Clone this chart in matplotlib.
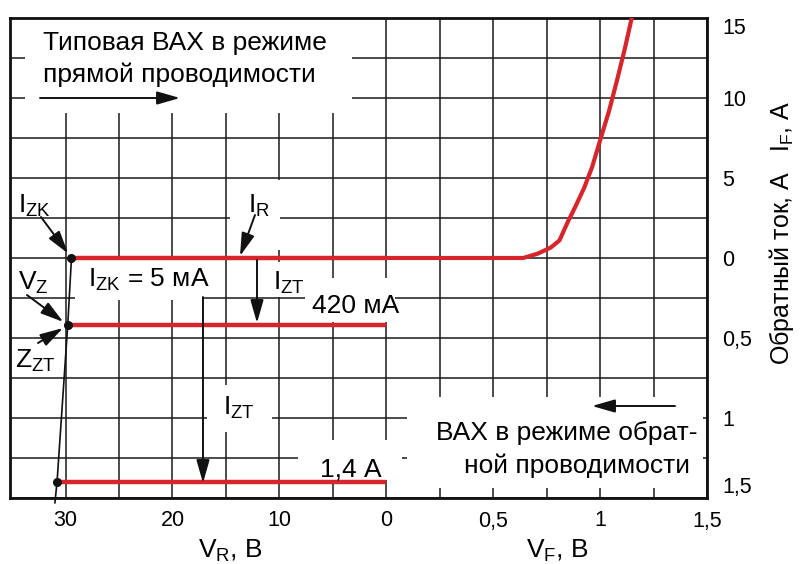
import numpy as np
import matplotlib
matplotlib.use("Agg")
import matplotlib.pyplot as plt
from matplotlib.patches import Rectangle

plt.rcParams['font.family'] = ['Liberation Sans', 'DejaVu Sans']
plt.rcParams['mathtext.fontset'] = 'custom'
plt.rcParams['mathtext.rm'] = 'Liberation Sans'
plt.rcParams['mathtext.it'] = 'Liberation Sans:italic'
plt.rcParams['mathtext.bf'] = 'Liberation Sans:bold'

# ---------------- data ----------------
# forward branch (V_F, В ; I_F, А)
vf = [0.0, 0.64, 0.71, 0.77, 0.81, 0.847, 0.884, 0.926, 0.963, 1.00, 1.042, 1.079, 1.116, 1.148]
i_f = [0.0, 0.0, 0.28, 0.66, 1.1, 2.2, 3.2, 4.4, 5.7, 7.35, 9.2, 11.1, 13.1, 15.0]

# zener breakdown branch (V_R, В ; I_R, А)
vr_z = [29.45, 29.8, 30.8, 31.0]
ir_z = [0.0, 0.42, 1.40, 1.53]

# test points I_ZK = 5 мА (~0 on this scale), I_ZT = 420 мА, I_ZT = 1,4 А
vr_pts = [29.45, 29.8, 30.8]
ir_pts = [0.0, 0.42, 1.40]

xtick_vals = [-30, -20, -10, 0, 0.5, 1.0, 1.5]
xtick_labels = ['30', '20', '10', '0', '0,5', '1', '1,5']
ytick_vals = [15, 10, 5, 0, -0.5, -1.0, -1.5]
ytick_labels = ['15', '10', '5', '0', '0,5', '1', '1,5']
xgrid_minor = [-25, -15, -5, 0.25, 0.75, 1.25]
ygrid_minor = [12.5, 7.5, 2.5, -0.25, -0.75, -1.25]

RED = '#d6262c'

# ---------------- piecewise scales ----------------
def fx(x):
    x = np.asarray(x, dtype=float)
    return np.where(x >= 0, x / 0.25, x / 5.0)

def ix(u):
    u = np.asarray(u, dtype=float)
    return np.where(u >= 0, u * 0.25, u * 5.0)

def fy(y):
    y = np.asarray(y, dtype=float)
    return np.where(y >= 0, y / 2.5, y / 0.25)

def iy(u):
    u = np.asarray(u, dtype=float)
    return np.where(u >= 0, u * 2.5, u * 0.25)

W, H = 801, 564
fig = plt.figure(figsize=(W / 100, H / 100), dpi=100)
L, R, T, B = 10, 707, 18, 498
ax = fig.add_axes([L / W, 1 - B / H, (R - L) / W, (B - T) / H])
ax.set_xscale('function', functions=(fx, ix))
ax.set_yscale('function', functions=(fy, iy))
ax.set_xlim(-35.2, 1.5)
ax.set_ylim(-1.5, 15)

def P(px, py):
    return ((px - L) / (R - L), (B - py) / (B - T))

# ticks / grid
ax.set_xticks(xtick_vals)
ax.set_xticklabels(xtick_labels)
ax.set_xticks(xgrid_minor, minor=True)
ax.set_yticks(ytick_vals)
ax.set_yticklabels(ytick_labels)
ax.set_yticks(ygrid_minor, minor=True)
ax.yaxis.tick_right()
ax.tick_params(which='both', length=0)
ax.tick_params(axis='x', labelsize=15.5, pad=9)
ax.tick_params(axis='y', labelsize=15.5, pad=11)
ax.grid(which='both', color='#1a1a1a', lw=1.1)
for s in ax.spines.values():
    s.set_linewidth(2.0)
    s.set_color('#111111')

ylabs = ax.get_yticklabels()
for k, lab in enumerate(ylabs):
    if k == 0:
        lab.set_va('top')
    elif k == len(ylabs) - 1:
        lab.set_va('bottom')
    else:
        lab.set_va('center_baseline')

# white masks behind labels
masks_px = [(25, 352, 18, 113), (230, 280, 180, 250), (75, 203, 260, 300),
            (262, 300, 262, 297), (305, 395, 278, 322), (207, 272, 385, 432),
            (298, 402, 440, 480), (407, 703, 397, 488)]
for x0, x1, y0, y1 in masks_px:
    a0 = P(x0, y1)
    a1 = P(x1, y0)
    ax.add_patch(Rectangle(a0, a1[0] - a0[0], a1[1] - a0[1], transform=ax.transAxes,
                           facecolor='white', edgecolor='none', zorder=1.8))

# curves
neg_vr_z = [-v for v in vr_z]
neg_ir_z = [-i for i in ir_z]
ax.plot(neg_vr_z, neg_ir_z, color='#111111', lw=1.2, zorder=3.5, clip_on=False)
for v, i in zip(vr_pts, ir_pts):
    ax.plot([-v, 0], [-i, -i], color=RED, lw=3.2, solid_capstyle='butt', zorder=3)
ax.plot(vf, i_f, color=RED, lw=3.0, zorder=3, solid_joinstyle='round')
ax.plot([-v for v in vr_pts], [-i for i in ir_pts], 'o', color='#111111', ms=5.5, zorder=4)

FS = 19
def txt(px, py, s, **kw):
    kw.setdefault('fontsize', FS)
    kw.setdefault('ha', 'left')
    kw.setdefault('va', 'baseline')
    ax.text(*P(px, py), s, transform=ax.transAxes, zorder=5, **kw)

txt(43, 50, 'Типовая ВАХ в режиме')
txt(43, 82, 'прямой проводимости')
txt(18, 213, r'$\mathregular{I_{ZK}}$')
txt(248, 213, r'$\mathregular{I_{R}}$')
txt(18, 290, r'$\mathregular{V_{Z}}$')
txt(88, 287, r'$\mathregular{I_{ZK}}$ = 5 мА')
txt(273, 290, r'$\mathregular{I_{ZT}}$')
txt(312, 313, '420 мА')
txt(15, 368, r'$\mathregular{Z_{ZT}}$')
txt(223, 415, r'$\mathregular{I_{ZT}}$')
txt(320, 477, '1,4 А')
txt(697, 440, 'ВАХ в режиме обрат-', ha='right')
txt(690, 473, 'ной проводимости', ha='right')

ax.text(*P(230, 558), r'$\mathregular{V_R}$, В', transform=ax.transAxes, fontsize=FS,
        ha='center', va='baseline', clip_on=False)
ax.text(*P(557, 558), r'$\mathregular{V_F}$, В', transform=ax.transAxes, fontsize=FS,
        ha='center', va='baseline', clip_on=False)
ax.text(*P(782, 233), r'Обратный ток, А   $\mathregular{I_F}$, А', transform=ax.transAxes,
        fontsize=18, rotation=90, ha='center', va='center', clip_on=False)

# arrows
ap = dict(arrowstyle='-|>,head_length=0.7,head_width=0.2', color='#111111', lw=1.4,
          mutation_scale=20, shrinkA=0, shrinkB=0)
def arr(p0, p1, xy_data=None):
    if xy_data is not None:
        ax.annotate('', xy=xy_data, xycoords='data', xytext=P(*p0), textcoords='axes fraction',
                    arrowprops=dict(ap, shrinkB=4), zorder=5)
    else:
        ax.annotate('', xy=P(*p1), xycoords='axes fraction', xytext=P(*p0),
                    textcoords='axes fraction', arrowprops=ap, zorder=5)

arr((40, 98), (180, 98))
arr((675, 406), (592, 406))
arr((41, 217), None, xy_data=(-vr_pts[0], -ir_pts[0]))
arr((255, 215), (240, 256))
arr((27, 295), None, xy_data=(-vr_pts[1], -ir_pts[1]))
arr((38, 343), None, xy_data=(-vr_pts[1], -ir_pts[1]))
arr((257, 260), (257, 323))
arr((203, 297), (203, 483))

fig.savefig('out.png', dpi=100)
